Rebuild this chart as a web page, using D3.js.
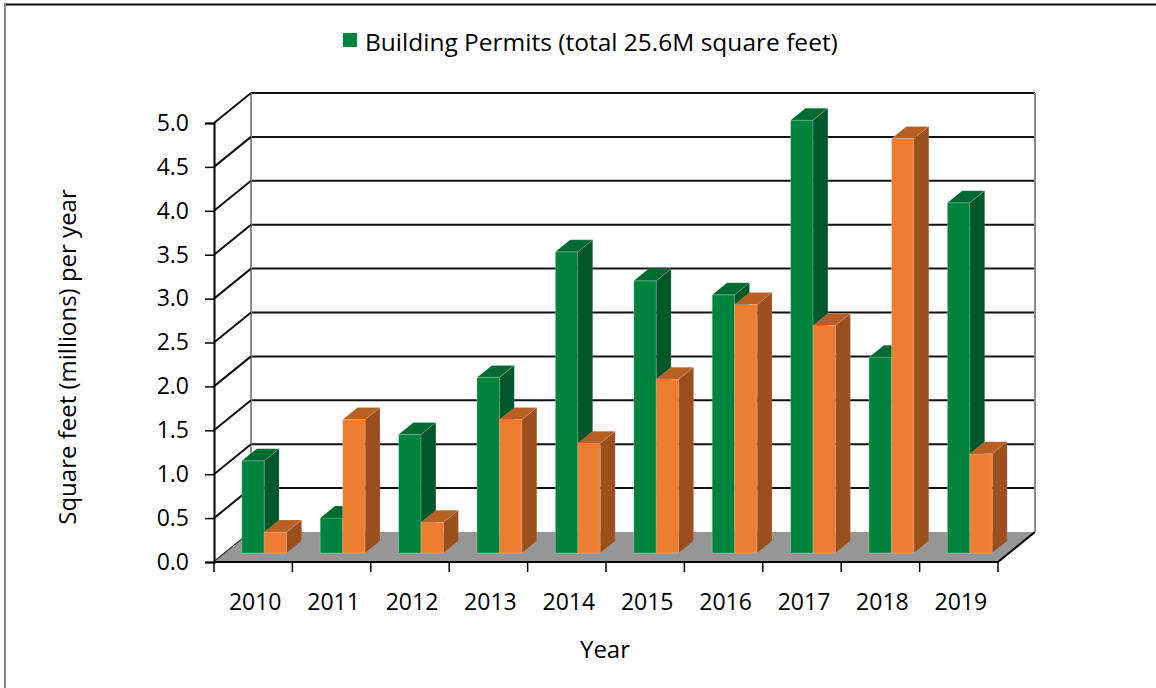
<!DOCTYPE html>
<html>
<head>
<meta charset="utf-8">
<script src="https://cdn.jsdelivr.net/npm/d3@7/dist/d3.min.js"></script>
<style>
  html, body { margin: 0; padding: 0; background: #fff; }
  svg { display: block; }
  text { font-family: "Open Sans", sans-serif; fill: #000; }
</style>
</head>
<body>
<svg id="chart" width="1156" height="688"></svg>
<script>
// Yearly building permit area, millions of square feet
const years = ["2010", "2011", "2012", "2013", "2014", "2015", "2016", "2017", "2018", "2019"];
const permits = [1.05, 0.40, 1.35, 2.00, 3.43, 3.10, 2.94, 4.93, 2.23, 3.99];
const secondSeries = [0.24, 1.52, 0.35, 1.52, 1.25, 1.98, 2.83, 2.59, 4.72, 1.13];
const yTickValues = [0, 0.5, 1.0, 1.5, 2.0, 2.5, 3.0, 3.5, 4.0, 4.5, 5.0];
const legendLabel = "Building Permits (total 25.6M square feet)";
const yTitle = "Square feet (millions) per year";
const xTitle = "Year";

const svg = d3.select("#chart");

// 3D box geometry: front plane + oblique depth offset
const DX = 37, DY = 30;
const x0 = d3.scaleBand().domain(years).range([214, 998]);
const x1 = d3.scaleBand().domain(["permits", "second"]).range([0, x0.bandwidth()]).paddingOuter(0.742);
const y = d3.scaleLinear().domain([0, 5]).range([562, 123]);
const proj = (x, yy, d) => [x + d * DX, yy - d * DY];
const poly = pts => pts.map(p => p.join(",")).join(" ");

const BAR_FRONT = 0.3, BAR_BACK = 0.7;
const colors = {
  permits: { front: "#00843d", side: "#00582a", top: "#006b31" },
  second:  { front: "#ed7d31", side: "#9a4f1d", top: "#b85f22" }
};

// Outer frame
svg.append("line").attr("x1", 4).attr("x2", 1156).attr("y1", 4.5).attr("y2", 4.5)
  .attr("stroke", "#000").attr("stroke-width", 2);
svg.append("line").attr("x1", 5).attr("x2", 5).attr("y1", 4).attr("y2", 688)
  .attr("stroke", "#888").attr("stroke-width", 2);

const xl = x0.range()[0], xr = x0.range()[1];

// Back wall gridlines
const grid = svg.append("g");
yTickValues.forEach(v => {
  if (v === 0) return;
  const a = proj(xl, y(v), 1), b = proj(xr, y(v), 1);
  grid.append("line").attr("x1", a[0]).attr("y1", a[1]).attr("x2", b[0]).attr("y2", b[1])
    .attr("stroke", "#111").attr("stroke-width", 2);
});
// Back wall vertical edges
[xl, xr].forEach(xx => {
  const a = proj(xx, y(5), 1), b = proj(xx, y(0), 1);
  grid.append("line").attr("x1", a[0]).attr("y1", a[1]).attr("x2", b[0]).attr("y2", b[1])
    .attr("stroke", "#8c8c8c").attr("stroke-width", 2);
});
// Side wall diagonals
yTickValues.forEach(v => {
  const a = proj(xl, y(v), 0), b = proj(xl, y(v), 1);
  grid.append("line").attr("x1", a[0]).attr("y1", a[1]).attr("x2", b[0]).attr("y2", b[1])
    .attr("stroke", "#111").attr("stroke-width", 2);
});

// Floor
svg.append("polygon")
  .attr("points", poly([proj(xl, y(0), 0), proj(xr, y(0), 0), proj(xr, y(0), 1), proj(xl, y(0), 1)]))
  .attr("fill", "#969696");
// Floor edges
const fe = svg.append("g").attr("stroke", "#000").attr("stroke-width", 2);
fe.append("line").attr("x1", xl).attr("y1", y(0)).attr("x2", xr).attr("y2", y(0));
{
  const b = proj(xr, y(0), 1);
  fe.append("line").attr("x1", xr).attr("y1", y(0)).attr("x2", b[0]).attr("y2", b[1]);
}

// Bars
const data = years.map((yr, i) => ({ year: yr, values: [
  { key: "permits", value: permits[i] },
  { key: "second", value: secondSeries[i] }
]}));
const bars = svg.append("g");
data.forEach(d => {
  d.values.forEach(s => {
    const bx = x0(d.year) + x1(s.key), bw = x1.bandwidth();
    const c = colors[s.key];
    const yt = y(s.value), yb = y(0);
    const g = bars.append("g");
    g.append("polygon")
      .attr("points", poly([proj(bx, yt, BAR_FRONT), proj(bx + bw, yt, BAR_FRONT), proj(bx + bw, yb, BAR_FRONT), proj(bx, yb, BAR_FRONT)]))
      .attr("fill", c.front).attr("stroke", "rgba(255,255,255,0.35)").attr("stroke-width", 0.7);
    g.append("polygon")
      .attr("points", poly([proj(bx, yt, BAR_FRONT), proj(bx + bw, yt, BAR_FRONT), proj(bx + bw, yt, BAR_BACK), proj(bx, yt, BAR_BACK)]))
      .attr("fill", c.top).attr("stroke", "rgba(255,255,255,0.25)").attr("stroke-width", 0.6);
    g.append("polygon")
      .attr("points", poly([proj(bx + bw, yt, BAR_FRONT), proj(bx + bw, yb, BAR_FRONT), proj(bx + bw, yb, BAR_BACK), proj(bx + bw, yt, BAR_BACK)]))
      .attr("fill", c.side).attr("stroke", "rgba(255,255,255,0.2)").attr("stroke-width", 0.6);
  });
});

// Y axis (front edge)
const yAxis = d3.axisLeft(y).tickValues(yTickValues).tickFormat(d3.format(".1f")).tickSize(9).tickPadding(16);
const yg = svg.append("g").attr("transform", `translate(${xl},0)`).call(yAxis);
yg.select(".domain").attr("stroke", "#000").attr("stroke-width", 2);
yg.selectAll(".tick line").attr("stroke", "#000").attr("stroke-width", 1.5);
yg.selectAll(".tick text").style("font-size", "23px").attr("font-family", null);

// X axis ticks at category boundaries
const xt = svg.append("g");
years.concat(["end"]).forEach((yr, i) => {
  const xx = i < years.length ? x0(yr) : xr;
  xt.append("line").attr("x1", xx).attr("x2", xx).attr("y1", y(0)).attr("y2", y(0) + 10)
    .attr("stroke", "#000").attr("stroke-width", 1.5);
});
xt.selectAll("text.year").data(years).join("text").attr("class", "year")
  .attr("x", d => x0(d) + x0.bandwidth() / 2 + 2).attr("y", 610)
  .attr("text-anchor", "middle").style("font-size", "23px").text(d => d);

// Axis titles
svg.append("text").attr("x", 605).attr("y", 658).attr("text-anchor", "middle")
  .style("font-size", "24px").text(xTitle);
svg.append("text").attr("transform", "translate(76,357) rotate(-90)").attr("text-anchor", "middle")
  .style("font-size", "24px").text(yTitle);

// Legend
svg.append("rect").attr("x", 343).attr("y", 33).attr("width", 14).attr("height", 14).attr("fill", colors.permits.front);
svg.append("text").attr("x", 365).attr("y", 51).style("font-size", "24.5px").text(legendLabel);
</script>
</body>
</html>
